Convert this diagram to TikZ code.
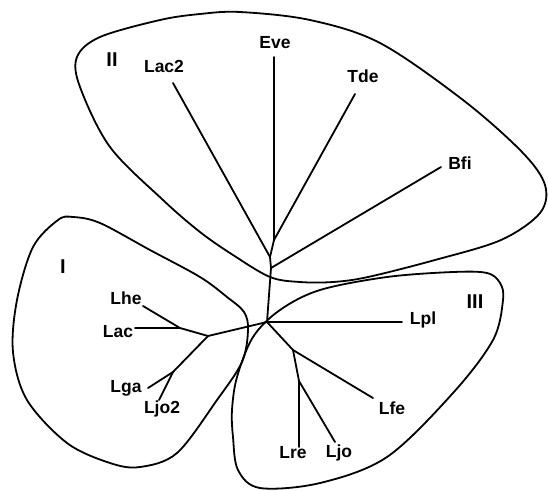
\documentclass[tikz,border=0pt]{standalone}
\usepackage{fontspec}
\setmainfont{Liberation Sans}
\begin{document}
\begin{tikzpicture}[x=1pt,y=-1pt,
  branch/.style={line width=1.8pt,line cap=round,line join=round},
  hull/.style={line width=1.8pt},
  lbl/.style={font=\fontsize{17.5}{19}\selectfont\bfseries,inner sep=0pt},
  grp/.style={font=\fontsize{20}{22}\selectfont\bfseries,inner sep=0pt}]
\useasboundingbox (0,0) rectangle (548,490);
% cluster outlines
\draw[hull] plot[smooth cycle,tension=0.55] coordinates {(73,217) (100,223) (150,250) (200,277) (227,297) (244,312) (248,330) (242,362) (217,400) (177,453) (140,467) (110,463) (67,443) (27,400) (13,352) (17,300) (33,247) (58,220)};
\draw[hull] plot[smooth cycle,tension=0.55] coordinates {(240,12) (310,20) (380,43) (463,100) (522,152) (545,185) (540,213) (501,240) (435,260) (368,277) (333,282) (300,282) (270,277) (233,255) (200,232) (163,200) (110,147) (80,87) (77,57) (100,37) (160,20) (200,14)};
\draw[hull] plot[smooth cycle,tension=0.55] coordinates {(500,283) (503,300) (493,340) (453,393) (387,457) (320,483) (260,488) (238,470) (233,437) (232,410) (237,377) (253,337) (280,310) (320,290) (387,277) (453,272) (487,273)};
% internal nodes
\coordinate (C) at (267,322);
\coordinate (S1) at (271,268);
\coordinate (S2) at (270,257);
\coordinate (S3) at (274,240);
\coordinate (N1) at (208,336);
\coordinate (N2) at (180,328);
\coordinate (N3) at (173,372);
\coordinate (N4) at (293,350);
\coordinate (N5) at (299,381);
% leaf ends
\coordinate (eEve) at (274,57);
\coordinate (eLac2) at (173,83);
\coordinate (eTde) at (355,94);
\coordinate (eBfi) at (441,167);
\coordinate (eLhe) at (143,306);
\coordinate (eLac) at (135,328);
\coordinate (eLga) at (148,388);
\coordinate (eLjoII) at (159,400);
\coordinate (eLpl) at (402,322);
\coordinate (eLfe) at (373,398);
\coordinate (eLre) at (299,447);
\coordinate (eLjo) at (335,442);
% branches
\draw[branch] (C) -- (S1) -- (S2) -- (S3) -- (eEve);
\draw[branch] (S1) -- (eBfi);
\draw[branch] (S2) -- (eLac2);
\draw[branch] (S3) -- (eTde);
\draw[branch] (C) -- (N1) -- (N2) -- (eLhe);
\draw[branch] (N2) -- (eLac);
\draw[branch] (N1) -- (N3) -- (eLga);
\draw[branch] (N3) -- (eLjoII);
\draw[branch] (C) -- (eLpl);
\draw[branch] (C) -- (N4) -- (eLfe);
\draw[branch] (N4) -- (N5) -- (eLre);
\draw[branch] (N5) -- (eLjo);
% labels
\node[lbl] (Eve) at (275,43) {Eve};
\node[lbl] (Lac2) at (164,66) {Lac2};
\node[lbl] (Tde) at (363,76) {Tde};
\node[lbl] (Bfi) at (460,163) {Bfi};
\node[lbl] (Lhe) at (126,298) {Lhe};
\node[lbl] (Lac) at (118,332) {Lac};
\node[lbl] (Lga) at (126,388) {Lga};
\node[lbl] (Ljo2) at (162,409) {Ljo2};
\node[lbl] (Lpl) at (423,320) {Lpl};
\node[lbl] (Lfe) at (392,408) {Lfe};
\node[lbl] (Lre) at (293,453) {Lre};
\node[lbl] (Ljo) at (339,453) {Ljo};
\node[grp] (gI) at (63,267) {I};
\node[grp] (gII) at (112,60) {II};
\node[grp] (gIII) at (475,302) {III};
\end{tikzpicture}
\end{document}
